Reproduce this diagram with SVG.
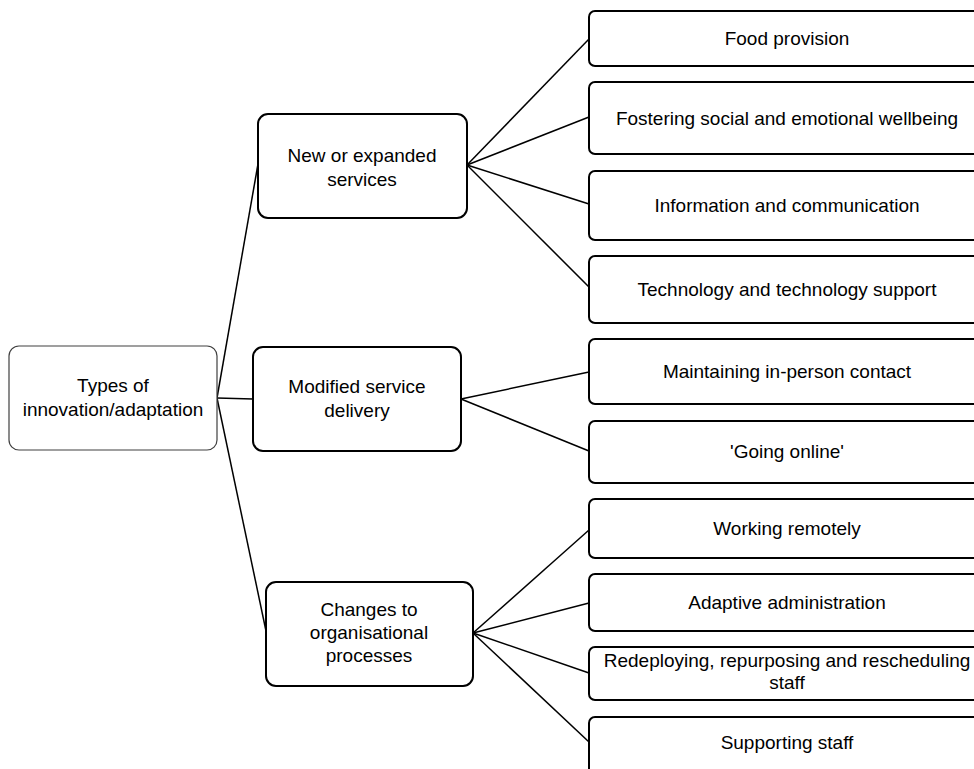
<svg xmlns="http://www.w3.org/2000/svg" width="974" height="769" viewBox="0 0 974 769">
<style>
  .box { fill: #ffffff; stroke: #000000; stroke-width: 2; }
  .root { fill: #ffffff; stroke: #404040; stroke-width: 1.2; }
  .lbl { font-family: "Liberation Sans", Arial, sans-serif; font-size: 19px; fill: #000000; text-anchor: middle; }
  .conn line { stroke: #000000; stroke-width: 1.5; fill: none; }
</style>
<rect width="974" height="769" fill="#ffffff"/>
<g id="connectors" class="conn">
  <line x1="217" y1="398" x2="258" y2="164"/>
  <line x1="217" y1="398" x2="253" y2="399"/>
  <line x1="217" y1="398" x2="266" y2="631"/>
  <line x1="467" y1="165" x2="589" y2="39"/>
  <line x1="467" y1="165" x2="589" y2="117"/>
  <line x1="467" y1="165" x2="589" y2="204"/>
  <line x1="467" y1="165" x2="589" y2="287"/>
  <line x1="461" y1="399" x2="589" y2="372"/>
  <line x1="461" y1="399" x2="589" y2="451"/>
  <line x1="473" y1="633" x2="589" y2="530"/>
  <line x1="473" y1="633" x2="589" y2="603"/>
  <line x1="473" y1="633" x2="589" y2="673"/>
  <line x1="473" y1="633" x2="589" y2="742"/>
</g>
<g id="root">
  <rect class="root" x="9" y="346" width="208" height="104" rx="10"/>
  <text class="lbl" x="113" y="392">Types of</text>
  <text class="lbl" x="113" y="416">innovation/adaptation</text>
</g>
<g id="new-services">
  <rect class="box" x="258" y="114" width="209" height="104" rx="10"/>
  <text class="lbl" x="362" y="162">New or expanded</text>
  <text class="lbl" x="362" y="186">services</text>
</g>
<g id="modified-delivery">
  <rect class="box" x="253" y="347" width="208" height="104" rx="10"/>
  <text class="lbl" x="357" y="393">Modified service</text>
  <text class="lbl" x="357" y="417">delivery</text>
</g>
<g id="org-processes">
  <rect class="box" x="266" y="582" width="207" height="104" rx="10"/>
  <text class="lbl" x="369" y="616">Changes to</text>
  <text class="lbl" x="369" y="639">organisational</text>
  <text class="lbl" x="369" y="662">processes</text>
</g>
<g id="food">
  <rect class="box" x="589" y="11" width="395" height="55" rx="6"/>
  <text class="lbl" x="787" y="45">Food provision</text>
</g>
<g id="fostering">
  <rect class="box" x="589" y="82" width="395" height="72" rx="6"/>
  <text class="lbl" x="787" y="125">Fostering social and emotional wellbeing</text>
</g>
<g id="information">
  <rect class="box" x="589" y="171" width="395" height="69" rx="6"/>
  <text class="lbl" x="787" y="212">Information and communication</text>
</g>
<g id="technology">
  <rect class="box" x="589" y="256" width="395" height="67" rx="6"/>
  <text class="lbl" x="787" y="296">Technology and technology support</text>
</g>
<g id="in-person">
  <rect class="box" x="589" y="339" width="395" height="65" rx="6"/>
  <text class="lbl" x="787" y="378">Maintaining in-person contact</text>
</g>
<g id="going-online">
  <rect class="box" x="589" y="421" width="395" height="62" rx="6"/>
  <text class="lbl" x="787" y="458">'Going online'</text>
</g>
<g id="working-remotely">
  <rect class="box" x="589" y="499" width="395" height="59" rx="6"/>
  <text class="lbl" x="787" y="535">Working remotely</text>
</g>
<g id="adaptive-admin">
  <rect class="box" x="589" y="574" width="395" height="57" rx="6"/>
  <text class="lbl" x="787" y="609">Adaptive administration</text>
</g>
<g id="redeploying">
  <rect class="box" x="589" y="647" width="395" height="53" rx="6"/>
  <text class="lbl" x="787" y="667">Redeploying, repurposing and rescheduling</text>
  <text class="lbl" x="787" y="689">staff</text>
</g>
<g id="supporting">
  <rect class="box" x="589" y="717" width="395" height="62" rx="6"/>
  <text class="lbl" x="787" y="749">Supporting staff</text>
</g>
</svg>
